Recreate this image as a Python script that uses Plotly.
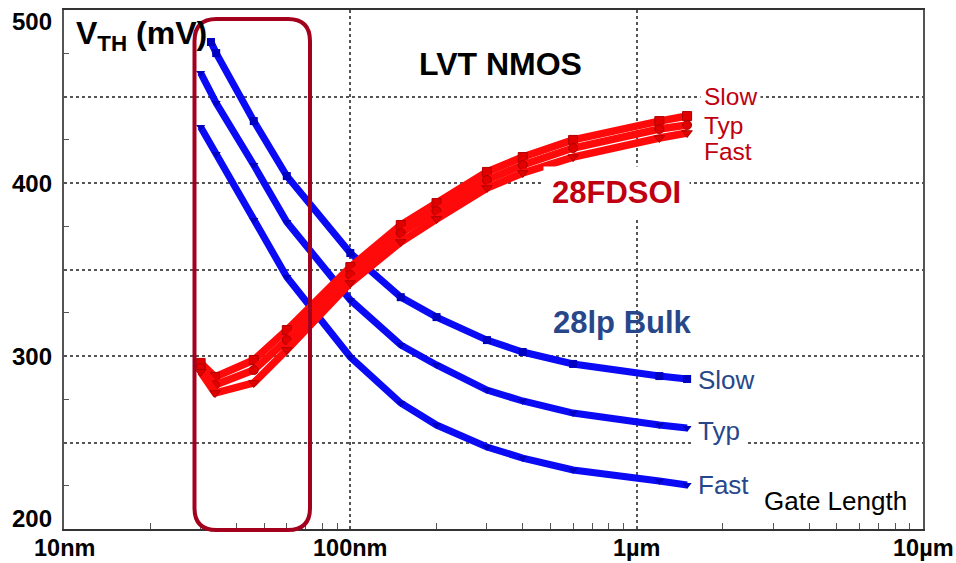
import plotly.graph_objects as go

# Gate length (nm) of each measured device
L_bulk_slow = [32.6, 34, 46, 60, 100, 150, 200, 300, 400, 600, 1200, 1500]
L_bulk = [30, 34, 46, 60, 100, 150, 200, 300, 400, 600, 1200, 1500]
L_fdsoi = [30, 33.7, 46, 60, 100, 150, 200, 300, 400, 600, 1200, 1500]

# Threshold voltage (mV), 28lp Bulk corners
vth_bulk_slow = [481.5, 475.1, 435.8, 404.0, 359.5, 334.0, 322.5, 309.2, 302.3, 295.4, 288.4, 286.7]
vth_bulk_typ = [463.6, 446.2, 410.4, 377.5, 332.4, 306.4, 294.8, 280.3, 274.0, 267.0, 260.1, 258.4]
vth_bulk_fast = [432.4, 416.8, 378.6, 345.7, 299.4, 272.8, 260.1, 247.4, 241.0, 234.1, 227.7, 225.4]

# Threshold voltage (mV), 28FDSOI corners
vth_fdsoi_slow = [296.0, 287.9, 297.7, 315.0, 351.4, 375.7, 388.4, 406.4, 415.0, 424.9, 435.8, 438.7]
vth_fdsoi_typ = [293.0, 283.2, 291.9, 309.2, 346.8, 371.1, 383.8, 401.7, 410.4, 420.2, 431.2, 433.5]
vth_fdsoi_fast = [290.8, 278.6, 284.4, 303.5, 342.2, 365.9, 379.2, 397.1, 405.8, 415.0, 426.0, 428.9]

corner_names = ["Slow", "Typ", "Fast"]
x_tick_vals = [10, 100, 1000, 10000]
x_tick_text = ["10nm", "100nm", "1µm", "10µm"]
y_tick_vals = [200, 300, 400, 500]
y_tick_text = ["200", "300", "400", "500"]

FONT = "Liberation Sans, Arial, sans-serif"
BLUE = "#0a0af5"
RED = "#ff0a0a"
BLUE_TXT = "#27478a"
RED_TXT = "#c00010"
BOX = "#a3001e"

W, H = 956, 563
ML, MR, MT, MB = 64, 33, 10, 34
PW, PH = W - ML - MR, H - MT - MB


def px(xp):
    return (xp - ML) / PW


def py(yp):
    return (H - MB - yp) / PH


fig = go.Figure()

symbols = ["square", "triangle-down", "triangle-down"]
for name, vals, sym, L in zip(corner_names,
                              [vth_bulk_slow, vth_bulk_typ, vth_bulk_fast],
                              symbols,
                              [L_bulk_slow, L_bulk, L_bulk]):
    fig.add_trace(go.Scatter(
        x=L, y=vals, mode="lines+markers", name=f"28lp Bulk {name}",
        line=dict(color=BLUE, width=7),
        marker=dict(symbol=sym, size=8, color="#0000c0"),
    ))

red_symbols = ["square", "circle", "triangle-down"]
for name, vals, sym in zip(corner_names,
                           [vth_fdsoi_slow, vth_fdsoi_typ, vth_fdsoi_fast],
                           red_symbols):
    fig.add_trace(go.Scatter(
        x=L_fdsoi, y=vals, mode="lines+markers", name=f"28FDSOI {name}",
        line=dict(color=RED, width=7.5),
        marker=dict(symbol=sym, size=9, color="#e00000",
                    line=dict(color="#b00000", width=1)),
    ))

# Rounded highlight frame around the short-channel region
x0, x1, y0, y1, r = 194.5, 310, 19, 530, 22
path = (
    f"M {px(x0 + r)},{py(y0)} L {px(x1 - r)},{py(y0)} "
    f"Q {px(x1)},{py(y0)} {px(x1)},{py(y0 + r)} "
    f"L {px(x1)},{py(y1 - r)} "
    f"Q {px(x1)},{py(y1)} {px(x1 - r)},{py(y1)} "
    f"L {px(x0 + r)},{py(y1)} "
    f"Q {px(x0)},{py(y1)} {px(x0)},{py(y1 - r)} "
    f"L {px(x0)},{py(y0 + r)} "
    f"Q {px(x0)},{py(y0)} {px(x0 + r)},{py(y0)} Z"
)
fig.add_shape(type="path", path=path, xref="paper", yref="paper",
              line=dict(color=BOX, width=4), layer="above")


def label(text, x, y, size, color, bold=False, xanchor="left", bg=None, pad=1):
    # shift left by the padding so the glyphs start at x
    shift = -pad if xanchor == "left" else 0
    fig.add_annotation(
        x=x, y=y, xref="x", yref="y", text=text, showarrow=False,
        xanchor=xanchor, yanchor="middle", xshift=shift,
        font=dict(family=FONT, size=size, color=color,
                  weight="bold" if bold else "normal"),
        bgcolor=bg, borderpad=pad,
    )


label("V<sub>TH</sub> (mV)", 1.04, 485.5, 32, "black", bold=True)
label("LVT NMOS", 2.526, 468.8, 32, "black", bold=True, xanchor="center")
label("28FDSOI", 2.70, 394.8, 31, RED_TXT, bold=True, bg="white", pad=8)
label("28lp Bulk", 2.705, 319.4, 31, BLUE_TXT, bold=True)

# corner labels; only those sitting on a grid line get a white backing
red_bg = ["white", None, None]
blue_bg = [None, "white", None]
for name, yv, bg in zip(corner_names, [450.0, 433.4, 418.0], red_bg):
    label(name, 3.232, yv, 24.5, RED_TXT, bg=bg, pad=3 if bg else 0)
for name, yv, bg in zip(corner_names, [286.1, 256.4, 225.4], blue_bg):
    label(name, 3.211, yv, 26, BLUE_TXT, bg=bg, pad=6 if bg else 0)
label("Gate Length", 3.441, 215.9, 26, "black", pad=0)

# y tick labels, pulled inside at the ends of the axis
for v, t in zip(y_tick_vals, y_tick_text):
    shift = -11 if v == max(y_tick_vals) else (11 if v == min(y_tick_vals) else 0)
    fig.add_annotation(
        x=0, y=v, xref="paper", yref="y", text=t, showarrow=False,
        xanchor="right", yanchor="middle", xshift=-10, yshift=shift,
        font=dict(family=FONT, size=24, color="black", weight="bold"),
    )

# x tick labels under the axis
for v, t in zip(x_tick_vals, x_tick_text):
    fig.add_annotation(
        x=len(str(v)) - 1, y=0, xref="x", yref="paper", text=t,
        showarrow=False, xanchor="center", yanchor="middle", yshift=-19,
        font=dict(family=FONT, size=23.5, color="black", weight="bold"),
    )

minor_x = [m * d for d in (10, 100, 1000) for m in range(2, 10)]
minor_y = [225, 275, 325, 375, 425, 475]

fig.update_xaxes(
    type="log", range=[1, 4], automargin=False,
    tickvals=x_tick_vals, showticklabels=False, ticks="",
    showgrid=True, gridcolor="#555555", griddash="dot", gridwidth=1.5,
    showline=True, mirror=True, linecolor="#333333", linewidth=2,
    minor=dict(tickvals=minor_x, ticks="inside", ticklen=6,
               tickcolor="#555555", showgrid=False),
    zeroline=False,
)
fig.update_yaxes(
    range=[200, 500], automargin=False,
    tickvals=[200, 250, 300, 350, 400, 450, 500],
    showticklabels=False, ticks="",
    showgrid=True, gridcolor="#555555", griddash="dot", gridwidth=1.5,
    showline=True, mirror=True, linecolor="#555555", linewidth=2,
    minor=dict(tickvals=minor_y, ticks="inside", ticklen=5,
               tickcolor="#555555", showgrid=False),
    zeroline=False,
)

fig.update_layout(
    width=W, height=H,
    margin=dict(l=ML, r=MR, t=MT, b=MB, autoexpand=False),
    paper_bgcolor="white", plot_bgcolor="white",
    showlegend=False,
    font=dict(family=FONT),
)

fig.write_html("out.html")
